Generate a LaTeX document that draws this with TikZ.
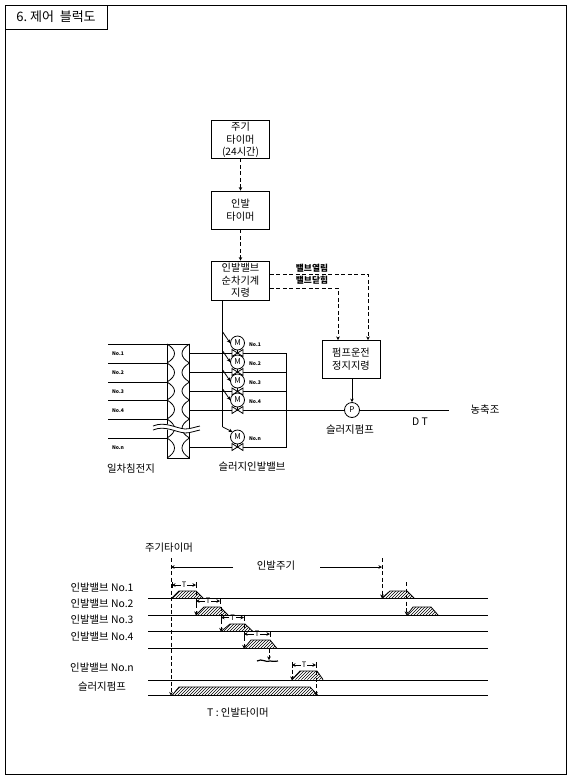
\documentclass[tikz,border=0pt]{standalone}
\usepackage{fontspec}
\setmainfont{Noto Sans CJK KR}
\usetikzlibrary{arrows.meta,patterns,calc}
\newcommand{\fsA}{\fontsize{10.4}{12}\selectfont}
\newcommand{\fsB}{\fontsize{10.2}{12.6}\selectfont}
\newcommand{\fsS}{\fontsize{5}{6}\selectfont\bfseries}
\tikzset{
  ln/.style={line width=0.8pt,black},
  boxed/.style={ln,draw,fill=white,align=center,inner sep=0pt,font=\fsB,minimum width=58pt},
  tip/.style={-{Stealth[length=3.5pt,width=3.5pt]}},
  dsh/.style={ln,dash pattern=on 4pt off 2.5pt},
  lab/.style={inner sep=0pt,font=\fsA},
  tiny/.style={inner sep=0pt,font=\fsS},
  motor/.style={ln,draw,fill=white,circle,minimum size=14pt,inner sep=0pt,font=\fontsize{8}{8}\selectfont},
  pulse/.style={ln,pattern=north east lines},
  base/.style={ln},
}
\begin{document}
\begin{tikzpicture}[x=1pt,y=-1pt]
\useasboundingbox (0,0) rectangle (571,780);
\fill[white] (0,0) rectangle (571,780);
\draw[ln] (5,5) rectangle (566,774);
\node[ln,draw,minimum width=102pt,minimum height=24pt,inner sep=0pt,font=\fontsize{13}{15}\selectfont] (title) at (56,17) {6.~제어~~블럭도};

% control boxes
\node[boxed,minimum height=38pt,text depth=0pt] (cyc) at (240.5,139) {주기\\타이머\\(24시간)};
\node[boxed,minimum height=38pt] (tim) at (240.5,210) {인발\\타이머};
\node[boxed,minimum height=39pt] (seq) at (240.5,280.5) {인발밸브\\순차기계\\지령};
\node[boxed,minimum height=38pt] (pmp) at (351,359) {펌프운전\\정지지령};
\draw[dsh,tip] (cyc) -- (tim);
\draw[dsh,tip] (tim) -- (seq);

\coordinate (opn) at (seq.east |- 0,274);
\coordinate (cls) at (seq.east |- 0,288);
\coordinate (pO) at (368,340);
\coordinate (pC) at (338,340);
\draw[dsh,tip] (opn) -| (pO);
\draw[dsh,tip] (cls) -| (pC);
\node[lab,font=\fontsize{8.7}{10}\selectfont\bfseries] (lo) at (312,268) {밸브열림};
\node[lab,font=\fontsize{8.7}{10}\selectfont\bfseries] (lc) at (312,280.5) {밸브닫힘};

% pump
\node[ln,draw,fill=white,circle,minimum size=15pt,inner sep=0pt,font=\fontsize{8}{8}\selectfont] (P) at (352,410) {P};
\draw[ln,tip] (pmp.south -| P) -- (P);
\coordinate (pipeEnd) at (449,410);
\draw[ln] (P) -- (pipeEnd);
\node[lab] (lsp) at (350,429.5) {슬러지펌프};
\node[lab] (ldt) at (420,421.5) {D T};
\node[lab] (ltk) at (485,410) {농축조};

% sedimentation tank
\draw[ln] (167,344) rectangle (189.5,458);
\foreach \a/\b [count=\i] in {344/363,363/382,382/400,400/419,419/438,438/458}{
  \draw[ln] (167,\a) .. controls (177,\a+6) and (177,\b-6) .. (167,\b);
  \draw[ln] (189.5,\a) .. controls (179.5,\a+6) and (179.5,\b-6) .. (189.5,\b);
  \draw[ln] (108,\a) -- (167,\a);
}
\foreach \y/\t/\n in {354/No.1/a,373/No.2/b,392/No.3/c,411/No.4/d,448/No.n/e}{
  \node[tiny] (t\n) at (118,\y) {\t};
}
\node[lab] (l1) at (131,469) {일차침전지};
\node[lab] (l2) at (252,467) {슬러지인발밸브};

% collector and discharge pipes
\coordinate (colT) at (286,353);
\coordinate (colB) at (286,447);
\draw[ln] (189.5,353) -- (colT) -- (colB) -- (189.5,447);
\draw[ln] (189.5,372) -- (286,372);
\draw[ln] (189.5,391) -- (286,391);
\draw[ln] (189.5,410) -- (P);

% break marks
\fill[white] (153,425.5) .. controls (165,420) and (175,428) .. (185,429) .. controls (190,429) and (195,427) .. (200,427) -- (200,431) .. controls (190,431) and (185,434) .. (175,431) .. controls (165,428) and (160,430) .. (153,431) -- cycle;
\draw[ln] (153,426) .. controls (165,421) and (175,428) .. (185,429) .. controls (190,429) and (195,427) .. (200,426);
\draw[ln] (153,430) .. controls (165,425) and (175,432) .. (185,433) .. controls (190,433) and (195,431) .. (200,430);

% sequence line
\coordinate (seqOut) at (222.7,300);
\coordinate (seqEnd) at (222.7,427);
\draw[ln] (seqOut) -- (seqEnd);
\foreach \m/\v/\t/\n/\by in {343/353/No.1/a/332,362/372/No.2/b/351,381/391.5/No.3/c/370,400/410/No.4/d/389,437/447/No.n/e/0}{
  \node[motor] (M\n) at (237.5,\m) {M};
  \draw[ln] (237.5,\m+7) -- (237.5,\v);
  \draw[ln,fill=white] (232,\v-3.5) -- (243,\v+3.5) -- (243,\v-3.5) -- (232,\v+3.5) -- cycle;
  \node[tiny] (m\n) at (255,\m+1.5) {\t};
  \ifnum\by>0 \draw[ln,tip] (222.7,\by) -- (M\n.west); \else \draw[ln,tip] (seqEnd) -- (M\n.north west); \fi
}

% timing chart
\node[lab] (lcy) at (169,547.5) {주기타이머};
\node[lab] (lpd) at (276,566) {인발주기};
\coordinate (d0t) at (171,558); \coordinate (d0b) at (171,695.5);
\draw[dsh,tip] (d0t) -- (d0b);
\coordinate (d1t) at (382,558); \coordinate (d1b) at (382,598);
\draw[dsh,tip] (d1t) -- (d1b);
\coordinate (pa) at (233,567); \coordinate (pb) at (320,567);
\draw[ln,tip] (pa) -- (171,567);
\draw[ln,tip] (pb) -- (382,567);

\foreach \y/\t/\n in {588/인발밸브 No.1/a,604/인발밸브 No.2/b,620/인발밸브 No.3/c,637/인발밸브 No.4/d,668/인발밸브 No.n/e,687/슬러지펌프/f}{
  \node[lab] (c\n) at (102,\y) {\t};
}
\node[lab] (tleg) at (238,713) {T : 인발타이머};

% pulses
\foreach \xa/\xb/\xc/\xd/\yt/\yb in {
  172/179/196/203/591/598,
  196/204/220/228/607/615,
  221/230/245/253/624/631.5,
  244/251/270/277/640/648.5,
  292/300/317/323/671/679.5,
  172/179/310/318/687/695.5,
  382/390/407/414/591/598,
  407/413/431/438/607/615}{
  \draw[pulse] (\xa,\yb) -- (\xb,\yt) -- (\xc,\yt) -- (\xd,\yb);
}
\foreach \y in {598,615,631.5,648.5,680,695.5}{
  \draw[base] (148,\y) -- (488,\y);
}

% dashed drop arrows
\foreach \x/\ya/\yb in {196/591/615,221/607/631.5,244/624/648.5,269/648.5/660,292/663/680,316/671/695.5,406.5/582/615}{
  \draw[dsh,tip] (\x,\ya) -- (\x,\yb);
}
% T spans
\foreach \xa/\xb/\y in {172/196/585,196/220/601,221/244/617.5,244/270/634,292/316/665}{
  \draw[ln] (\xa,\y-3) -- (\xa,\y+3);
  \draw[ln] (\xb,\y-3) -- (\xb,\y+3);
  \node[inner sep=0pt,font=\fontsize{7.5}{8}\selectfont] (T\xa) at ({(\xa+\xb)/2},\y) {T};
  \draw[ln,tip] (T\xa.west) ++(-1,0) -- (\xa,\y);
  \draw[ln,tip] (T\xa.east) ++(1,0) -- (\xb,\y);
}
% chart break
\draw[line width=1.2pt] (257,661) .. controls (262,658) and (266,663) .. (270,661) .. controls (273,660) and (275,663) .. (278,661);
\end{tikzpicture}
\end{document}
